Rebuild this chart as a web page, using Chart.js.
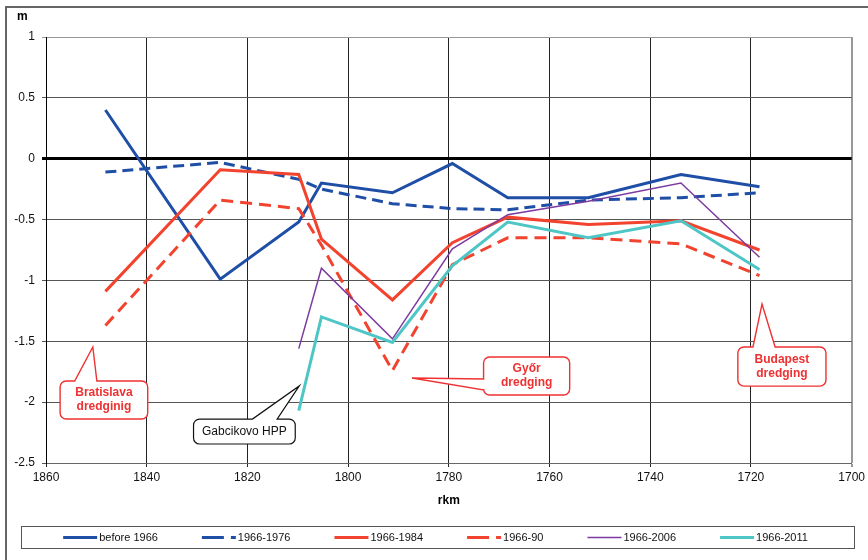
<!DOCTYPE html>
<html>
<head>
<meta charset="utf-8">
<script src="https://cdn.jsdelivr.net/npm/chart.js@4/dist/chart.umd.min.js"></script>
<style>
  html, body { margin: 0; padding: 0; background: #fff; }
  canvas { display: block; }
</style>
</head>
<body>
<canvas id="chart" width="868" height="560"></canvas>
<script>
const FONT = "'Liberation Sans', Arial, sans-serif";

// river km of the survey sections (x axis runs downstream, right to left)
const rkm = [1848.2, 1825.4, 1809.8, 1805.3, 1791.2, 1779.3, 1768.3, 1752.3, 1733.9, 1718.3];

// change of low water level, m
const before1966 = [0.4, -0.99, -0.52, -0.2, -0.28, -0.04, -0.32, -0.32, -0.13, -0.23];
const p1966_1976 = [-0.11, -0.03, -0.17, -0.25, -0.37, -0.41, -0.42, -0.34, -0.32, -0.28];
const p1966_1984 = [-1.09, -0.09, -0.13, -0.66, -1.16, -0.69, -0.48, -0.54, -0.51, -0.75];
const p1966_90 = [-1.37, -0.34, -0.41, -0.71, -1.74, -0.87, -0.65, -0.65, -0.70, -0.96];
const p1966_2006 = [null, null, -1.56, -0.90, -1.48, -0.74, -0.46, -0.35, -0.20, -0.81];
const p1966_2011 = [null, null, -2.07, -1.30, -1.51, -0.88, -0.52, -0.65, -0.51, -0.91];

const xTicks = [1860, 1840, 1820, 1800, 1780, 1760, 1740, 1720, 1700];
const yTicks = [1, 0.5, 0, -0.5, -1, -1.5, -2, -2.5];

// callout boxes, in data units: box = [rkm left, m top, rkm right, m bottom]
const callouts = [
  { lines: ["Bratislava", "dredginig"], box: [1857.2, -1.826, 1839.8, -2.139], side: "top",
    base: [1854.3, 1849.9], tip: [1850.7, -1.547], color: "#ef3131", bold: true },
  { lines: ["Gabcikovo HPP"], box: [1830.7, -2.139, 1810.5, -2.344], side: "top",
    base: [1819.0, 1814.1], tip: [1809.7, -1.867], color: "#111", bold: false },
  { lines: ["Győr", "dredging"], box: [1773.1, -1.629, 1756.0, -1.941], side: "left",
    base: [-1.810, -1.900], tip: [1787.3, -1.802], color: "#ef3131", bold: true },
  { lines: ["Budapest", "dredging"], box: [1722.6, -1.547, 1705.1, -1.868], side: "top",
    base: [1719.6, 1715.2], tip: [1717.8, -1.194], color: "#ef3131", bold: true },
];

const BLUE = "#1f4ea6";
const RED = "#f2432f";

function pts(values) {
  return rkm.map((x, i) => ({ x, y: values[i] })).filter((p) => p.y !== null);
}

const series = [
  { label: "before 1966", data: before1966, color: BLUE, width: 3, dash: [] },
  { label: "1966-1976", data: p1966_1976, color: BLUE, width: 3, dash: [11, 6] },
  { label: "1966-1984", data: p1966_1984, color: RED, width: 3, dash: [] },
  { label: "1966-90", data: p1966_90, color: RED, width: 3, dash: [12, 7] },
  { label: "1966-2006", data: p1966_2006, color: "#7d3aa0", width: 1.5, dash: [] },
  { label: "1966-2011", data: p1966_2011, color: "#4fc6c6", width: 3, dash: [] },
];

function calloutPath(ctx, x1, y1, x2, y2, r, side, b1, b2, tx, ty) {
  ctx.beginPath();
  ctx.moveTo(x1 + r, y1);
  if (side === "top") { ctx.lineTo(b1, y1); ctx.lineTo(tx, ty); ctx.lineTo(b2, y1); }
  ctx.lineTo(x2 - r, y1);
  ctx.arcTo(x2, y1, x2, y1 + r, r);
  ctx.lineTo(x2, y2 - r);
  ctx.arcTo(x2, y2, x2 - r, y2, r);
  ctx.lineTo(x1 + r, y2);
  ctx.arcTo(x1, y2, x1, y2 - r, r);
  if (side === "left") { ctx.lineTo(x1, b2); ctx.lineTo(tx, ty); ctx.lineTo(x1, b1); }
  ctx.lineTo(x1, y1 + r);
  ctx.arcTo(x1, y1, x1 + r, y1, r);
  ctx.closePath();
}

const decorations = {
  id: "decorations",
  beforeDraw(chart) {
    const ctx = chart.ctx;
    ctx.save();
    ctx.fillStyle = "#fff";
    ctx.fillRect(0, 0, chart.width, chart.height);
    // outer frame, runs off the right and bottom edge
    ctx.strokeStyle = "#666";
    ctx.lineWidth = 2;
    ctx.beginPath();
    ctx.moveTo(chart.width, 7);
    ctx.lineTo(6, 7);
    ctx.lineTo(6, chart.height);
    ctx.stroke();
    ctx.restore();
  },
  afterDatasetsDraw(chart) {
    const ctx = chart.ctx;
    const xs = chart.scales.x, ys = chart.scales.y;
    ctx.save();
    callouts.forEach((c) => {
      const x1 = xs.getPixelForValue(c.box[0]), y1 = ys.getPixelForValue(c.box[1]);
      const x2 = xs.getPixelForValue(c.box[2]), y2 = ys.getPixelForValue(c.box[3]);
      const tx = xs.getPixelForValue(c.tip[0]), ty = ys.getPixelForValue(c.tip[1]);
      let b1, b2;
      if (c.side === "top") {
        b1 = xs.getPixelForValue(c.base[0]); b2 = xs.getPixelForValue(c.base[1]);
      } else {
        b1 = ys.getPixelForValue(c.base[0]); b2 = ys.getPixelForValue(c.base[1]);
      }
      calloutPath(ctx, x1, y1, x2, y2, 6, c.side, b1, b2, tx, ty);
      ctx.fillStyle = "#fff";
      ctx.fill();
      ctx.lineWidth = c.bold ? 1.4 : 1.2;
      ctx.strokeStyle = c.color;
      ctx.stroke();
      ctx.fillStyle = c.color;
      ctx.font = (c.bold ? "bold " : "") + "12px " + FONT;
      ctx.textAlign = "center";
      ctx.textBaseline = "middle";
      const cx = (x1 + x2) / 2, cy = (y1 + y2) / 2;
      c.lines.forEach((t, i) => {
        ctx.fillText(t, cx, cy + (i - (c.lines.length - 1) / 2) * 14);
      });
    });
    ctx.restore();
  },
  afterDraw(chart) {
    const ctx = chart.ctx;
    ctx.save();
    // unit label above the value axis
    ctx.fillStyle = "#000";
    ctx.font = "bold 12px " + FONT;
    ctx.textAlign = "left";
    ctx.textBaseline = "middle";
    ctx.fillText("m", 17, 17);

    // legend box
    const lx1 = 21, ly1 = 526, lx2 = 854, ly2 = 548;
    ctx.fillStyle = "#fff";
    ctx.fillRect(lx1, ly1, lx2 - lx1, ly2 - ly1);
    ctx.strokeStyle = "#555";
    ctx.lineWidth = 1;
    ctx.strokeRect(lx1 + 0.5, ly1 + 0.5, lx2 - lx1, ly2 - ly1);

    ctx.font = "11px " + FONT;
    const lineLen = 34, gap = 2, spacing = 44;
    const items = chart.data.datasets.map((d) => ({ d, w: ctx.measureText(d.label).width }));
    const total = items.reduce((s, it) => s + lineLen + gap + it.w, 0) + spacing * (items.length - 1);
    let x = lx1 + (lx2 - lx1 - total) / 2 - 2;
    const my = (ly1 + ly2) / 2 + 0.5;
    items.forEach((it) => {
      ctx.strokeStyle = it.d.borderColor;
      ctx.lineWidth = it.d.borderWidth;
      // legend swatch: long dash, gap, short dash ending at the text
      ctx.setLineDash(it.d.borderDash.length ? [22, 7] : []);
      ctx.beginPath();
      ctx.moveTo(x, my);
      ctx.lineTo(x + lineLen, my);
      ctx.stroke();
      ctx.setLineDash([]);
      ctx.fillStyle = "#111";
      ctx.textAlign = "left";
      ctx.fillText(it.d.label, x + lineLen + gap, my);
      x += lineLen + gap + it.w + spacing;
    });
    ctx.restore();
  },
};

new Chart(document.getElementById("chart"), {
  type: "line",
  data: {
    datasets: series.map((s, i) => ({
      label: s.label,
      data: pts(s.data),
      borderColor: s.color,
      backgroundColor: s.color,
      borderWidth: s.width,
      borderDash: s.dash,
      pointRadius: 0,
      fill: false,
      tension: 0,
      order: series.length - i,
    })),
  },
  options: {
    responsive: false,
    devicePixelRatio: 1,
    animation: false,
    layout: { padding: { top: 37, right: 14, left: 0, bottom: 47 } },
    plugins: {
      legend: { display: false },
      tooltip: { enabled: false },
    },
    scales: {
      x: {
        type: "linear",
        reverse: true,
        min: 1700,
        max: 1860,
        afterBuildTicks: (s) => { s.ticks = xTicks.map((v) => ({ value: v })); },
        afterFit: (s) => { s.height = 50; },
        ticks: {
          callback: (v) => String(v),
          font: { family: FONT, size: 12 },
          color: "#111",
          padding: 3,
          maxRotation: 0,
          autoSkip: false,
        },
        grid: {
          color: (c) => (c.tick && c.tick.value === 1700 ? "#999" : "#222"),
          lineWidth: (c) => (c.tick && c.tick.value === 1700 ? 2 : 1),
          tickLength: 4,
        },
        border: { color: "#666", width: 1 },
        title: {
          display: true,
          text: "rkm",
          font: { family: FONT, size: 12, weight: "bold" },
          color: "#000",
          padding: { top: 0, bottom: 5 },
        },
      },
      y: {
        type: "linear",
        min: -2.5,
        max: 1,
        afterBuildTicks: (s) => { s.ticks = yTicks.map((v) => ({ value: v })); },
        afterFit: (s) => { s.width = 46; },
        ticks: {
          callback: (v) => String(v),
          font: { family: FONT, size: 12 },
          color: "#111",
          padding: 7,
        },
        grid: {
          color: (c) => {
            if (!c.tick) return "#555";
            if (c.tick.value === 0) return "#000";
            if (c.tick.value === 1) return "#999";
            return "#555";
          },
          lineWidth: (c) => (c.tick && c.tick.value === 0 ? 3 : 1),
          tickLength: 4,
        },
        border: { color: "#000", width: 1 },
      },
    },
  },
  plugins: [decorations],
});
</script>
</body>
</html>
